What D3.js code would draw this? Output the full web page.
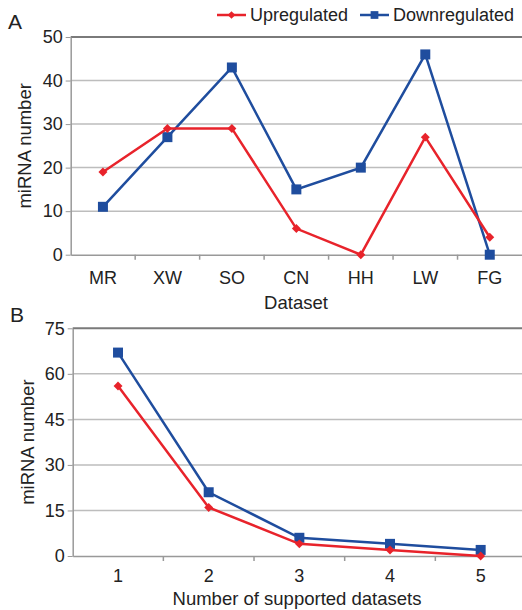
<!DOCTYPE html>
<html>
<head>
<meta charset="utf-8">
<script src="https://cdn.jsdelivr.net/npm/d3@7"></script>
<style>
  body { margin: 0; background: #fff; }
  text { font-family: "Liberation Sans", Arial, sans-serif; fill: #222; }
</style>
</head>
<body>
<script>
// panel A data
const datasets = ["MR", "XW", "SO", "CN", "HH", "LW", "FG"];
const upA = [19, 29, 29, 6, 0, 27, 4];
const downA = [11, 27, 43, 15, 20, 46, 0];
const ticksA = [0, 10, 20, 30, 40, 50];

// panel B data
const supported = ["1", "2", "3", "4", "5"];
const upB = [56, 16, 4, 2, 0];
const downB = [67, 21, 6, 4, 2];
const ticksB = [0, 15, 30, 45, 60, 75];

const red = "#e8232b";
const blue = "#1f4d9e";

const width = 522;
const height = 610;

const svg = d3
  .select("body")
  .append("svg")
  .attr("width", width)
  .attr("height", height);

// small diamond = square turned 45 degrees
const diamond = (size) => d3.symbol().type(d3.symbolSquare).size(size);

function panel(opts) {
  const x = d3.scaleBand().domain(opts.cats).range(opts.xRange);
  const y = d3.scaleLinear().domain([0, opts.max]).range(opts.yRange);
  const g = svg.append("g");

  // gridlines
  g.selectAll(".grid")
    .data(opts.ticks.filter((t) => t > 0))
    .enter()
    .append("line")
    .attr("x1", opts.xRange[0])
    .attr("x2", width)
    .attr("y1", (d) => y(d))
    .attr("y2", (d) => y(d))
    .attr("stroke", (d) => (d === opts.max ? "#7a7a7a" : "#bdbdbd"))
    .attr("stroke-width", (d) => (d === opts.max ? 2 : 1.5));

  // y axis
  const yAxis = g
    .append("g")
    .attr("transform", `translate(${opts.xRange[0]},0)`)
    .call(d3.axisLeft(y).tickValues(opts.ticks).tickSize(5).tickSizeOuter(0));
  yAxis.select(".domain").attr("stroke", "#999").attr("stroke-width", 1.5);
  yAxis.selectAll(".tick line").attr("stroke", "#999");
  yAxis.selectAll(".tick text").attr("font-size", 18).attr("x", -8);

  // x axis
  const xAxis = g
    .append("g")
    .attr("transform", `translate(0,${opts.yRange[0]})`)
    .call(d3.axisBottom(x).tickSize(0).tickSizeOuter(0));
  xAxis.select(".domain").attr("stroke", "#999").attr("stroke-width", 1.5);
  xAxis.selectAll(".tick text").attr("font-size", 18).attr("dy", 0).attr("y", opts.tickLabelDy);

  // band separator ticks
  g.selectAll(".sep")
    .data(opts.cats.slice(1))
    .enter()
    .append("line")
    .attr("x1", (d) => x(d))
    .attr("x2", (d) => x(d))
    .attr("y1", opts.yRange[0])
    .attr("y2", opts.yRange[0] + 5)
    .attr("stroke", "#999")
    .attr("stroke-width", 1.5);

  // axis titles
  g.append("text")
    .attr("transform", `translate(${opts.yTitleX},${(opts.yRange[0] + opts.yRange[1]) / 2}) rotate(-90)`)
    .attr("text-anchor", "middle")
    .attr("dy", "0.35em")
    .attr("font-size", 18.5)
    .text("miRNA number");

  g.append("text")
    .attr("x", opts.xTitleX)
    .attr("y", opts.xTitleY)
    .attr("text-anchor", "middle")
    .attr("font-size", 18.5)
    .text(opts.xTitle);

  g.append("text")
    .attr("x", opts.letterX)
    .attr("y", opts.letterY)
    .attr("font-size", 21)
    .text(opts.letter);

  const line = d3
    .line()
    .x((d, i) => x(opts.cats[i]) + x.bandwidth() / 2)
    .y((d) => y(d));

  // downregulated drawn first, upregulated on top
  [
    { vals: opts.down, color: blue, sym: d3.symbol().type(d3.symbolSquare).size(100), rot: 0 },
    { vals: opts.up, color: red, sym: diamond(40), rot: 45 },
  ].forEach((s) => {
    g.append("path")
      .attr("d", line(s.vals))
      .attr("fill", "none")
      .attr("stroke", s.color)
      .attr("stroke-width", 2.5);
    g.selectAll(null)
      .data(s.vals)
      .enter()
      .append("path")
      .attr("d", s.sym)
      .attr("transform", (d, i) => `translate(${x(opts.cats[i]) + x.bandwidth() / 2},${y(d)}) rotate(${s.rot})`)
      .attr("fill", s.color);
  });
}

panel({
  cats: datasets,
  up: upA,
  down: downA,
  ticks: ticksA,
  max: 50,
  xRange: [70.7, 522],
  yRange: [254.7, 37],
  tickLabelDy: 29,
  yTitleX: 25,
  xTitle: "Dataset",
  xTitleX: 296,
  xTitleY: 309,
  letter: "A",
  letterX: 8,
  letterY: 29,
});

panel({
  cats: supported,
  up: upB,
  down: downB,
  ticks: ticksB,
  max: 75,
  xRange: [72.7, 526],
  yRange: [556, 328.3],
  tickLabelDy: 26,
  yTitleX: 28,
  xTitle: "Number of supported datasets",
  xTitleX: 297,
  xTitleY: 605,
  letter: "B",
  letterX: 10,
  letterY: 322,
});

// legend
const legend = [
  { name: "Upregulated", color: red, sym: diamond(30), rot: 45, x: 217 },
  { name: "Downregulated", color: blue, sym: d3.symbol().type(d3.symbolSquare).size(60), rot: 0, x: 360 },
];
const lg = svg.selectAll(".legend").data(legend).enter().append("g")
  .attr("transform", (d) => `translate(${d.x},15)`);
lg.append("line").attr("x1", 0).attr("x2", 29).attr("stroke", (d) => d.color).attr("stroke-width", 2.5);
lg.append("path")
  .attr("d", (d) => d.sym())
  .attr("transform", (d) => `translate(14.5,0) rotate(${d.rot})`)
  .attr("fill", (d) => d.color);
lg.append("text")
  .attr("x", 33)
  .attr("dy", "0.35em")
  .attr("font-size", 18)
  .text((d) => d.name);
</script>
</body>
</html>
